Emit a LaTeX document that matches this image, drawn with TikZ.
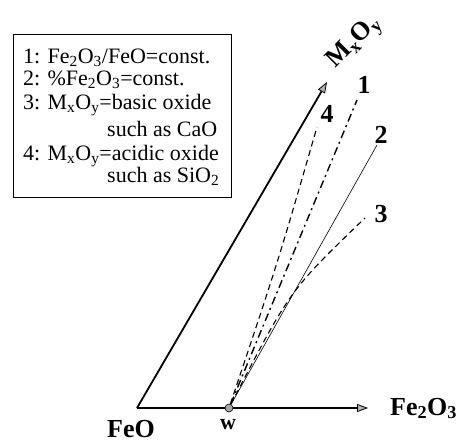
\documentclass[tikz,border=0pt]{standalone}
\usepackage{fontspec}
\setmainfont{Liberation Serif}
\usetikzlibrary{arrows.meta}
\begin{document}
\begin{tikzpicture}[x=1pt,y=-1pt,
  lbl/.style={font=\fontsize{26}{28}\selectfont\bfseries, inner sep=0pt, anchor=base},
  tip/.style={-{Triangle[width=8pt,length=11pt,color=black,fill=gray!60,line width=0.8pt]}},
  legtxt/.style={inner sep=0pt, anchor=base west, font=\fontsize{22}{24}\selectfont}]
\useasboundingbox (0,0) rectangle (467,442);
\coordinate (O) at (137,408);
\coordinate (Xend) at (368,408);
\coordinate (Yend) at (327,82);
\node[circle, draw=black, fill=gray!70, inner sep=0pt, minimum size=8pt, line width=0.6pt] (w) at (229,408) {};
% axes
\draw[line width=1.3pt] (O) -- (w);
\draw[line width=1.3pt, tip] (w) -- (Xend);
\draw[line width=1.8pt, tip] (O) -- (Yend);
% curves
\coordinate (e1) at (357,100);
\coordinate (e2) at (377,145);
\coordinate (e3) at (365,218);
\coordinate (e4) at (317,127);
\draw[line width=1.4pt, dash pattern=on 8pt off 4pt on 2pt off 4pt] (w) -- (e1);
\draw[line width=0.6pt] (w) -- (e2);
\draw[line width=1.1pt, dash pattern=on 6pt off 4pt] (w) .. controls (290,290) .. (e3);
\draw[line width=1.1pt, dash pattern=on 6pt off 4pt] (w) .. controls (278,262) .. (e4);
% labels
\node[lbl] (l1) at (364,93) {1};
\node[lbl] (l2) at (381,143) {2};
\node[lbl] (l3) at (381,222) {3};
\node[lbl] (l4) at (327,122) {4};
\node[lbl, anchor=center, rotate=45] (my) at (355,43) {M\textsubscript{x}O\textsubscript{y}};
\node[lbl, anchor=base west] (fe2o3) at (390,415) {Fe\textsubscript{2}O\textsubscript{3}};
\node[lbl, anchor=base west] (feo) at (107,437) {FeO};
\node[font=\fontsize{22}{22}\selectfont\bfseries, inner sep=0pt, anchor=base] (wl) at (228,429) {w};
% legend
\node[draw, line width=0.8pt, minimum width=218pt, minimum height=163pt, anchor=north west, inner sep=0pt] (box) at (13,34) {};
\node[legtxt] (leg1) at (23,63) {1: Fe\textsubscript{2}O\textsubscript{3}/FeO=const.};
\node[legtxt] (leg2) at (23,85) {2: \%Fe\textsubscript{2}O\textsubscript{3}=const.};
\node[legtxt] (leg3) at (23,109) {3: M\textsubscript{x}O\textsubscript{y}=basic oxide};
\node[legtxt] (leg3b) at (107,136) {such as CaO};
\node[legtxt] (leg4) at (23,160) {4: M\textsubscript{x}O\textsubscript{y}=acidic oxide};
\node[legtxt] (leg4b) at (107,182) {such as SiO\textsubscript{2}};
\end{tikzpicture}
\end{document}
